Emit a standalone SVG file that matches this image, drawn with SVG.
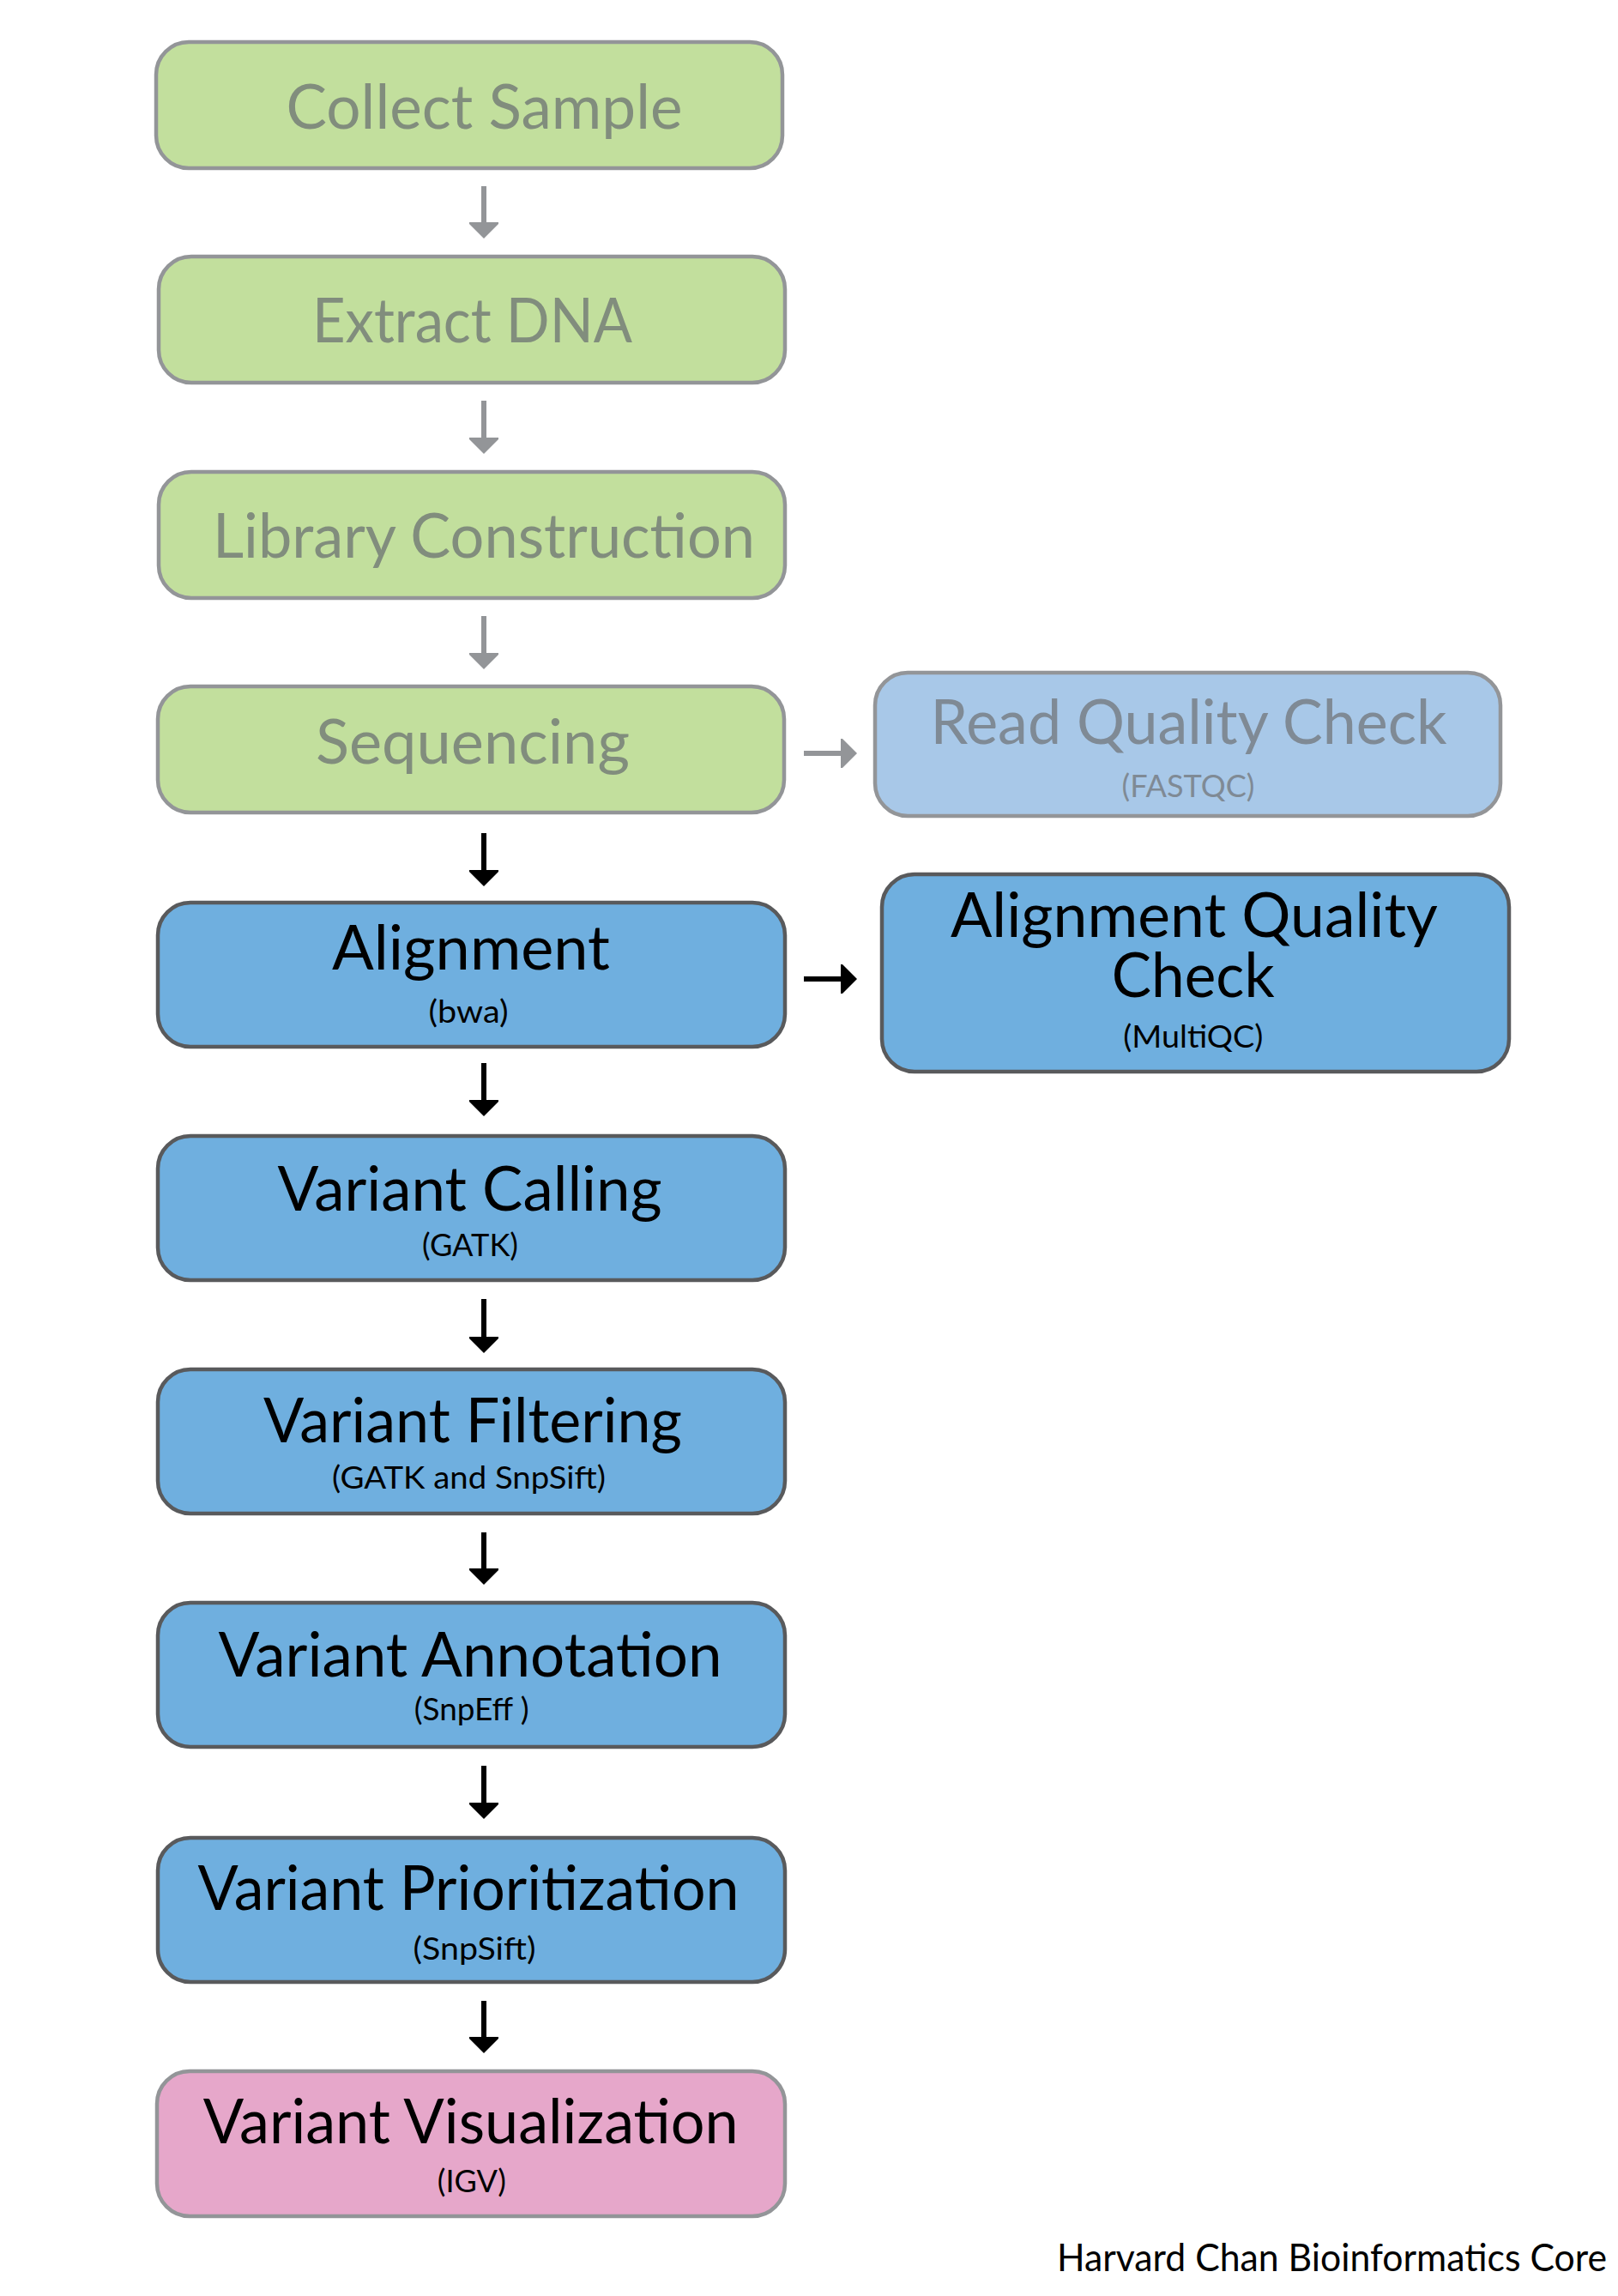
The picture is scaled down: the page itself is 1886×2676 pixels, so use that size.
<svg xmlns="http://www.w3.org/2000/svg" width="1886" height="2676" viewBox="0 0 1886 2676">
  <style>
    .box { stroke-width: 4.5; }
    .green { fill: #c2df9d; stroke: #939598; }
    .lblue { fill: #a8c8e8; stroke: #939598; }
    .blue { fill: #6fafdf; stroke: #595a5c; }
    .pink { fill: #e6a7ca; stroke: #939598; }
    text { font-family: Lato, "Open Sans", "DejaVu Sans", sans-serif; text-anchor: middle; }
    .main { font-size: 72px; }
    .sub { font-size: 37px; }
    .gtext { fill: #818d7d; }
    .btext { fill: #7f8a95; }
    .dark { fill: #000000; }
    .garrow { stroke: #939598; stroke-width: 6; fill: none; }
    .karrow { stroke: #000000; stroke-width: 6; fill: none; }
    .credit { font-size: 44px; text-anchor: start; fill: #000000; }
  </style>
  <defs>
    <marker id="headGray" markerUnits="userSpaceOnUse" markerWidth="19" markerHeight="34" viewBox="-2 0 19 34" refX="0" refY="17" orient="auto">
      <path d="M-2,0 L0,0 L17,17 L0,34 L-2,34 Z" fill="#939598"/>
    </marker>
    <marker id="headBlack" markerUnits="userSpaceOnUse" markerWidth="19" markerHeight="34" viewBox="-2 0 19 34" refX="0" refY="17" orient="auto">
      <path d="M-2,0 L0,0 L17,17 L0,34 L-2,34 Z" fill="#000000"/>
    </marker>
  </defs>

  <g id="connectors">
    <line class="garrow" x1="564" y1="217" x2="564" y2="261" marker-end="url(#headGray)"/>
    <line class="garrow" x1="564" y1="467" x2="564" y2="512" marker-end="url(#headGray)"/>
    <line class="garrow" x1="564" y1="718" x2="564" y2="763" marker-end="url(#headGray)"/>
    <line class="garrow" x1="937" y1="878" x2="982" y2="878" marker-end="url(#headGray)"/>
    <line class="karrow" x1="564" y1="971" x2="564" y2="1016" marker-end="url(#headBlack)"/>
    <line class="karrow" x1="937" y1="1141" x2="982" y2="1141" marker-end="url(#headBlack)"/>
    <line class="karrow" x1="564" y1="1239" x2="564" y2="1284" marker-end="url(#headBlack)"/>
    <line class="karrow" x1="564" y1="1514" x2="564" y2="1560" marker-end="url(#headBlack)"/>
    <line class="karrow" x1="564" y1="1786" x2="564" y2="1830" marker-end="url(#headBlack)"/>
    <line class="karrow" x1="564" y1="2058" x2="564" y2="2103" marker-end="url(#headBlack)"/>
    <line class="karrow" x1="564" y1="2332" x2="564" y2="2376" marker-end="url(#headBlack)"/>
  </g>

  <g id="collect-sample">
    <rect class="box green" x="182" y="49" width="730" height="147" rx="38"/>
    <text class="main gtext" x="564.5" y="149.6" textLength="462" lengthAdjust="spacingAndGlyphs">Collect Sample</text>
  </g>

  <g id="extract-dna">
    <rect class="box green" x="185" y="299" width="730" height="147" rx="38"/>
    <text class="main gtext" x="550.5" y="398.8" textLength="373" lengthAdjust="spacingAndGlyphs">Extract DNA</text>
  </g>

  <g id="library-construction">
    <rect class="box green" x="185" y="550" width="730" height="147" rx="38"/>
    <text class="main gtext" x="564" y="649.6" textLength="632" lengthAdjust="spacingAndGlyphs">Library Construction</text>
  </g>

  <g id="sequencing">
    <rect class="box green" x="184" y="800" width="730" height="147" rx="38"/>
    <text class="main gtext" x="551" y="890" textLength="366" lengthAdjust="spacingAndGlyphs">Sequencing</text>
  </g>

  <g id="read-quality-check">
    <rect class="box lblue" x="1020" y="784" width="729" height="167" rx="38"/>
    <text class="main btext" x="1385.6" y="866.8" textLength="602" lengthAdjust="spacingAndGlyphs">Read Quality Check</text>
    <text class="sub btext" x="1385" y="929.3" textLength="155" lengthAdjust="spacingAndGlyphs">(FASTQC)</text>
  </g>

  <g id="alignment">
    <rect class="box blue" x="184" y="1052" width="731" height="168" rx="38"/>
    <text class="main dark" x="549" y="1130.4" textLength="324" lengthAdjust="spacingAndGlyphs">Alignment</text>
    <text class="sub dark" x="546" y="1192" textLength="93" lengthAdjust="spacingAndGlyphs">(bwa)</text>
  </g>

  <g id="alignment-quality-check">
    <rect class="box blue" x="1028" y="1019" width="731" height="230" rx="38"/>
    <text class="main dark" x="1392" y="1091.8" textLength="568" lengthAdjust="spacingAndGlyphs">Alignment Quality</text>
    <text class="main dark" x="1390.7" y="1161.8" textLength="190" lengthAdjust="spacingAndGlyphs">Check</text>
    <text class="sub dark" x="1390.8" y="1221" textLength="163" lengthAdjust="spacingAndGlyphs">(MultiQC)</text>
  </g>

  <g id="variant-calling">
    <rect class="box blue" x="184" y="1324" width="731" height="168" rx="38"/>
    <text class="main dark" x="547.5" y="1410.7" textLength="448" lengthAdjust="spacingAndGlyphs">Variant Calling</text>
    <text class="sub dark" x="548" y="1464" textLength="112" lengthAdjust="spacingAndGlyphs">(GATK)</text>
  </g>

  <g id="variant-filtering">
    <rect class="box blue" x="184" y="1596" width="731" height="168" rx="38"/>
    <text class="main dark" x="551" y="1681" textLength="488" lengthAdjust="spacingAndGlyphs">Variant Filtering</text>
    <text class="sub dark" x="546.5" y="1734.7" textLength="319" lengthAdjust="spacingAndGlyphs">(GATK and SnpSift)</text>
  </g>

  <g id="variant-annotation">
    <rect class="box blue" x="184" y="1868" width="731" height="168" rx="38"/>
    <text class="main dark" x="548" y="1954" textLength="587" lengthAdjust="spacingAndGlyphs">Variant Annotation</text>
    <text class="sub dark" x="549.7" y="2005" textLength="134" lengthAdjust="spacingAndGlyphs">(SnpEff )</text>
  </g>

  <g id="variant-prioritization">
    <rect class="box blue" x="184" y="2142" width="731" height="168" rx="38"/>
    <text class="main dark" x="546" y="2225.5" textLength="631" lengthAdjust="spacingAndGlyphs">Variant Prioritization</text>
    <text class="sub dark" x="553" y="2284" textLength="143" lengthAdjust="spacingAndGlyphs">(SnpSift)</text>
  </g>

  <g id="variant-visualization">
    <rect class="box pink" x="183" y="2414" width="732" height="169" rx="38"/>
    <text class="main dark" x="548.7" y="2498.4" textLength="624" lengthAdjust="spacingAndGlyphs">Variant Visualization</text>
    <text class="sub dark" x="549.8" y="2554.6" textLength="80" lengthAdjust="spacingAndGlyphs">(IGV)</text>
  </g>

  <g id="credit">
    <text class="credit" x="1232" y="2646.7" textLength="641" lengthAdjust="spacingAndGlyphs">Harvard Chan Bioinformatics Core</text>
  </g>
</svg>
